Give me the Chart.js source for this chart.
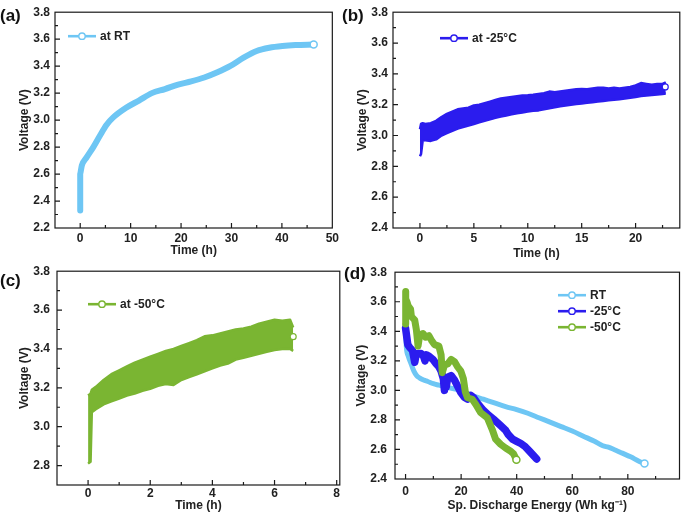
<!DOCTYPE html>
<html><head><meta charset="utf-8">
<script src="https://cdn.jsdelivr.net/npm/chart.js@4.4.1/dist/chart.umd.min.js"></script>
<style>
html,body{margin:0;padding:0;background:#fff;}
#wrap{position:relative;width:685px;height:514px;overflow:hidden;background:#fff;}
canvas{position:absolute;}
.lbl{position:absolute;font:bold 17px "Liberation Sans",Arial,sans-serif;color:#111;line-height:17px;}
</style></head><body>
<div id="wrap">
<canvas id="cA" width="342" height="262" style="left:0;top:0"></canvas>
<canvas id="cB" width="343" height="262" style="left:342px;top:0"></canvas>
<canvas id="cC" width="345" height="257" style="left:0;top:257px"></canvas>
<canvas id="cD" width="343" height="257" style="left:342px;top:257px"></canvas>
<div class="lbl" style="left:0;top:7px">(a)</div>
<div class="lbl" style="left:342px;top:7px">(b)</div>
<div class="lbl" style="left:0;top:272px">(c)</div>
<div class="lbl" style="left:344px;top:265px">(d)</div>
</div>
<script>
// ---------- Panel (a): charge at RT ----------
const aTime = [0, 0, 0.15, 0.33, 1.3, 2.6, 3.9, 5.2, 6.5, 9.1, 11.65, 14.2, 16.8, 19.4, 22, 24.6, 27.2, 29.8, 32.4, 35, 37.5, 40.1, 42.7, 46.3];
const aVolt = [2.33, 2.60, 2.63, 2.664, 2.725, 2.80, 2.884, 2.964, 3.018, 3.091, 3.145, 3.20, 3.23, 3.263, 3.287, 3.316, 3.355, 3.402, 3.463, 3.512, 3.536, 3.549, 3.556, 3.56];

// ---------- Panel (b): charge at -25 C (upper / lower envelope of the noisy trace) ----------
const bTime  = [0, 0.1, 0.25, 0.5, 1, 1.5, 2, 2.5, 3, 3.5, 4, 4.5, 5, 5.5, 6, 6.5, 7, 7.5, 8, 8.5, 9, 9.5, 10, 10.5, 11, 11.5, 12, 12.5, 13, 13.5, 14, 14.5, 15, 15.5, 16, 16.5, 17, 17.5, 18, 18.5, 19, 19.5, 20, 20.5, 21, 21.5, 22, 22.5, 22.8];
const bUpper = [3.04, 3.075, 3.08, 3.075, 3.08, 3.095, 3.12, 3.14, 3.155, 3.17, 3.175, 3.18, 3.195, 3.20, 3.21, 3.22, 3.23, 3.24, 3.245, 3.25, 3.255, 3.26, 3.262, 3.265, 3.27, 3.275, 3.285, 3.28, 3.285, 3.29, 3.295, 3.30, 3.302, 3.30, 3.305, 3.31, 3.31, 3.305, 3.31, 3.305, 3.31, 3.315, 3.325, 3.34, 3.335, 3.33, 3.335, 3.335, 3.345];
const bLower = [2.865, 2.88, 2.965, 2.97, 2.965, 2.975, 3.0, 3.015, 3.03, 3.045, 3.055, 3.065, 3.075, 3.085, 3.095, 3.105, 3.115, 3.123, 3.13, 3.137, 3.145, 3.15, 3.155, 3.16, 3.163, 3.17, 3.177, 3.183, 3.19, 3.195, 3.2, 3.204, 3.208, 3.212, 3.216, 3.22, 3.224, 3.228, 3.232, 3.236, 3.24, 3.245, 3.25, 3.256, 3.26, 3.263, 3.266, 3.27, 3.272];
const bEnd = [22.75, 3.315];

// ---------- Panel (c): charge at -50 C (upper / lower envelope) ----------
const cTime  = [0, 0.08, 0.12, 0.25, 0.5, 0.75, 1, 1.25, 1.5, 1.75, 2, 2.25, 2.5, 2.75, 3, 3.25, 3.5, 3.75, 4, 4.25, 4.5, 4.75, 5, 5.25, 5.5, 5.75, 6, 6.25, 6.5, 6.6];
const cUpper = [3.16, 3.17, 3.19, 3.205, 3.24, 3.27, 3.29, 3.31, 3.33, 3.345, 3.36, 3.375, 3.39, 3.40, 3.415, 3.43, 3.445, 3.465, 3.47, 3.48, 3.49, 3.50, 3.505, 3.515, 3.53, 3.54, 3.55, 3.545, 3.55, 3.51];
const cLower = [2.81, 2.82, 3.075, 3.09, 3.115, 3.13, 3.145, 3.16, 3.17, 3.185, 3.195, 3.21, 3.22, 3.215, 3.24, 3.255, 3.27, 3.285, 3.30, 3.315, 3.325, 3.345, 3.355, 3.365, 3.375, 3.385, 3.395, 3.40, 3.40, 3.39];
const cEnd = [6.6, 3.463];

// ---------- Panel (d): discharge energy ----------
const dRTEnergy  = [0, 0.3, 1, 2, 3, 4, 5, 6.5, 8, 10, 12, 15, 20, 24, 28, 32, 36, 40, 44, 48, 52, 56, 60, 64, 68, 71, 73, 75, 78, 81, 84, 86];
const dRTVolt    = [3.40, 3.29, 3.23, 3.18, 3.13, 3.10, 3.085, 3.07, 3.06, 3.045, 3.035, 3.02, 3.0, 2.965, 2.94, 2.915, 2.89, 2.87, 2.845, 2.815, 2.785, 2.755, 2.725, 2.69, 2.655, 2.625, 2.615, 2.60, 2.575, 2.55, 2.52, 2.505];
const dM25Energy = [0, 0.3, 0.8, 1.5, 2.5, 3, 3.3, 3.8, 4.5, 5.5, 6.5, 7, 7.5, 8.5, 9.8, 11, 12, 12.8, 13.6, 14, 14.2, 14.6, 15.2, 16.4, 17.6, 18.7, 19.9, 21.1, 22.3, 23.5, 24.5, 26, 28, 30, 32, 34, 36, 37, 38.5, 40, 41.5, 43, 44.5, 46, 47.2];
const dM25Volt   = [3.42, 3.38, 3.31, 3.29, 3.27, 3.22, 3.19, 3.24, 3.25, 3.25, 3.23, 3.20, 3.24, 3.23, 3.21, 3.18, 3.16, 3.13, 3.08, 3.00, 3.06, 3.02, 3.09, 3.10, 3.07, 3.03, 2.985, 2.955, 2.94, 2.965, 2.95, 2.91, 2.865, 2.83, 2.80, 2.765, 2.73, 2.70, 2.67, 2.655, 2.64, 2.62, 2.59, 2.56, 2.535];
const dM50Energy = [0, 0, 0.1, 0.5, 1, 1.8, 2.1, 3.3, 3.9, 4.5, 5.1, 6.3, 7.2, 8.4, 9.3, 10.4, 12, 12.8, 13.2, 14, 15.2, 16.4, 17.6, 18.7, 19.9, 20.8, 21.5, 22.3, 24, 25.3, 27, 29.4, 31.2, 32.4, 34.2, 36, 37.7, 38.9, 39.9];
const dM50Volt   = [3.45, 3.67, 3.62, 3.60, 3.57, 3.55, 3.50, 3.475, 3.41, 3.30, 3.375, 3.385, 3.36, 3.37, 3.34, 3.31, 3.30, 3.24, 3.12, 3.17, 3.18, 3.21, 3.195, 3.16, 3.13, 3.08, 2.99, 2.95, 2.94, 2.905, 2.85, 2.815, 2.735, 2.67, 2.635, 2.61, 2.59, 2.57, 2.53];

// ---------- tick labels ----------
const aXTicks = [0, 10, 20, 30, 40, 50];
const aYTicks = [2.2, 2.4, 2.6, 2.8, 3.0, 3.2, 3.4, 3.6, 3.8];
const bXTicks = [0, 5, 10, 15, 20];
const bYTicks = [2.4, 2.6, 2.8, 3.0, 3.2, 3.4, 3.6, 3.8];
const cXTicks = [0, 2, 4, 6, 8];
const cYTicks = [2.8, 3.0, 3.2, 3.4, 3.6, 3.8];
const dXTicks = [0, 20, 40, 60, 80];
const dYTicks = [2.4, 2.6, 2.8, 3.0, 3.2, 3.4, 3.6, 3.8];

// ---------- legend labels ----------
const aLegend = ['at RT'];
const bLegend = ['at -25°C'];
const cLegend = ['at -50°C'];
const dLegend = ['RT', '-25°C', '-50°C'];

const C_RT = '#6EC6F4', C_25 = '#2B1CEE', C_50 = '#7AB532';
const FONT = '"Liberation Sans", Arial, sans-serif';
const TXT = '#222';

function pts(xs, ys) { return xs.map((x, i) => ({x: x, y: ys[i]})); }

const frame = {
  id: 'frame',
  afterDatasetsDraw(chart) {
    const {ctx, chartArea: a, scales} = chart;
    ctx.save();
    ctx.strokeStyle = '#1a1a1a';
    ctx.lineWidth = 1.2;
    ctx.beginPath();
    [scales.x, scales.y].forEach(s => {
      const vals = s.ticks.map(t => t.value);
      const step = vals[1] - vals[0];
      const draw = (v, len) => {
        if (v <= s.min + 1e-9 || v >= s.max - 1e-9) return;
        const p = s.getPixelForValue(v);
        if (s.isHorizontal()) { ctx.moveTo(p, a.bottom); ctx.lineTo(p, a.bottom - len); }
        else { ctx.moveTo(a.left, p); ctx.lineTo(a.left + len, p); }
      };
      vals.forEach(v => draw(v, 5));
      for (let i = -1; i < vals.length; i++) draw(vals[0] + (i + 0.5) * step, 3);
    });
    ctx.stroke();
    ctx.strokeRect(a.left, a.top, a.right - a.left, a.bottom - a.top);
    ctx.restore();
  }
};

const legendBox = {
  id: 'legendBox',
  afterDraw(chart, args, o) {
    const {ctx, chartArea: a} = chart;
    ctx.save();
    ctx.font = 'bold 12px ' + FONT;
    ctx.textBaseline = 'middle';
    o.items.forEach((it, i) => {
      const x = a.left + o.dx, y = a.top + o.dy + i * (o.gap || 0);
      ctx.strokeStyle = it.color; ctx.lineWidth = 2.6;
      ctx.beginPath(); ctx.moveTo(x, y); ctx.lineTo(x + 28, y); ctx.stroke();
      ctx.beginPath(); ctx.arc(x + 14, y, 3.2, 0, Math.PI * 2);
      ctx.fillStyle = '#fff'; ctx.fill(); ctx.lineWidth = 1.4; ctx.stroke();
      ctx.fillStyle = TXT; ctx.fillText(it.text, x + 32, y + 0.5);
    });
    ctx.restore();
  }
};

function opts(p) {
  return {
    responsive: false, animation: false,
    layout: {padding: {top: p.padTop, right: p.padRight, left: 0, bottom: 0}},
    plugins: {
      legend: {display: false}, tooltip: {enabled: false},
      legendBox: {items: p.legend, dx: p.lx, dy: p.ly, gap: p.lgap}
    },
    scales: {
      x: {
        type: 'linear', min: p.xmin, max: p.xmax,
        grid: {display: false, drawTicks: false, tickLength: 0}, border: {display: false},
        ticks: {font: {family: FONT, size: 12, weight: 'bold'}, color: TXT, padding: p.xtp, maxRotation: 0, autoSkip: false},
        title: {display: true, text: p.xtitle, font: {family: FONT, size: 12, weight: 'bold'}, color: TXT, padding: {top: 0, bottom: p.xtb}},
        afterBuildTicks: s => { s.ticks = p.xTicks.map(v => ({value: v})); },
        afterFit: s => { s.height = p.xH; }
      },
      y: {
        type: 'linear', min: p.ymin, max: p.ymax,
        grid: {display: false, drawTicks: false, tickLength: 0}, border: {display: false},
        ticks: {font: {family: FONT, size: 12, weight: 'bold'}, color: TXT, padding: p.ytp, callback: v => Number(v).toFixed(1)},
        title: {display: true, text: 'Voltage (V)', font: {family: FONT, size: 12, weight: 'bold'}, color: TXT, padding: {top: p.ytt, bottom: 0}},
        afterBuildTicks: s => { s.ticks = p.yTicks.map(v => ({value: v})); },
        afterFit: s => { s.width = p.yW; }
      }
    }
  };
}

function lineDS(xs, ys, color, width, endMarker, order, smooth) {
  const n = xs.length;
  return {
    data: pts(xs, ys), borderColor: color, borderWidth: width, backgroundColor: color,
    fill: false, order: order,
    cubicInterpolationMode: smooth ? 'monotone' : 'default', tension: 0,
    borderCapStyle: 'round', borderJoinStyle: 'round',
    pointRadius: c => (endMarker && c.dataIndex === n - 1) ? 3.5 : 0,
    pointBackgroundColor: '#fff', pointBorderColor: color, pointBorderWidth: 1.5
  };
}

function bandDS(xs, up, lo, endPt, color) {
  return [
    {data: [{x: endPt[0], y: endPt[1]}], showLine: false, pointRadius: 3, pointBackgroundColor: '#fff', pointBorderColor: color, pointBorderWidth: 1.2, order: 0},
    {data: pts(xs, up), borderColor: color, borderWidth: 2.5, pointRadius: 0, fill: false, order: 1, borderJoinStyle: 'round'},
    {data: pts(xs, lo), borderColor: color, borderWidth: 2.5, pointRadius: 0, fill: '-1', backgroundColor: color, order: 2, borderJoinStyle: 'round'}
  ];
}

new Chart(document.getElementById('cA'), {
  type: 'line',
  data: {datasets: [lineDS(aTime, aVolt, C_RT, 6, true, 0, true)]},
  options: opts({padTop: 10, padRight: 4, xmin: -5, xmax: 50, ymin: 2.2, ymax: 3.8, xTicks: aXTicks, yTicks: aYTicks,
    xtitle: 'Time (h)', xH: 34, yW: 55, xtp: 3, xtb: 4, ytp: 5, ytt: 17,
    legend: [{text: aLegend[0], color: C_RT}], lx: 13, ly: 24, lgap: 0}),
  plugins: [frame, legendBox]
});

new Chart(document.getElementById('cB'), {
  type: 'line',
  data: {datasets: bandDS(bTime, bUpper, bLower, bEnd, C_25)},
  options: opts({padTop: 7, padRight: 2, xmin: -2.5, xmax: 24.1, ymin: 2.4, ymax: 3.8, xTicks: bXTicks, yTicks: bYTicks,
    xtitle: 'Time (h)', xH: 34, yW: 51, xtp: 3, xtb: 1, ytp: 5, ytt: 13,
    legend: [{text: bLegend[0], color: C_25}], lx: 47, ly: 26, lgap: 0}),
  plugins: [frame, legendBox]
});

new Chart(document.getElementById('cC'), {
  type: 'line',
  data: {datasets: bandDS(cTime, cUpper, cLower, cEnd, C_50)},
  options: opts({padTop: 11, padRight: 2, xmin: -1, xmax: 8.1, ymin: 2.7, ymax: 3.8, xTicks: cXTicks, yTicks: cYTicks,
    xtitle: 'Time (h)', xH: 29, yW: 57, xtp: 1, xtb: 1, ytp: 7, ytt: 17,
    legend: [{text: cLegend[0], color: C_50}], lx: 31, ly: 33, lgap: 0}),
  plugins: [frame, legendBox]
});

new Chart(document.getElementById('cD'), {
  type: 'line',
  data: {datasets: [
    lineDS(dM50Energy, dM50Volt, C_50, 7, true, 0, false),
    lineDS(dM25Energy, dM25Volt, C_25, 7.5, false, 1, false),
    lineDS(dRTEnergy, dRTVolt, C_RT, 5, true, 2, true)
  ]},
  options: opts({padTop: 13, padRight: 2, xmin: -3.8, xmax: 98.6, ymin: 2.4, ymax: 3.8, xTicks: dXTicks, yTicks: dYTicks,
    xtitle: 'Sp. Discharge Energy (Wh kg\u207B\u00B9)', xH: 35, yW: 53, xtp: 5, xtb: 1, ytp: 8, ytt: 12,
    legend: [{text: dLegend[0], color: C_RT}, {text: dLegend[1], color: C_25}, {text: dLegend[2], color: C_50}], lx: 163, ly: 23, lgap: 16}),
  plugins: [frame, legendBox]
});
</script>
</body></html>
